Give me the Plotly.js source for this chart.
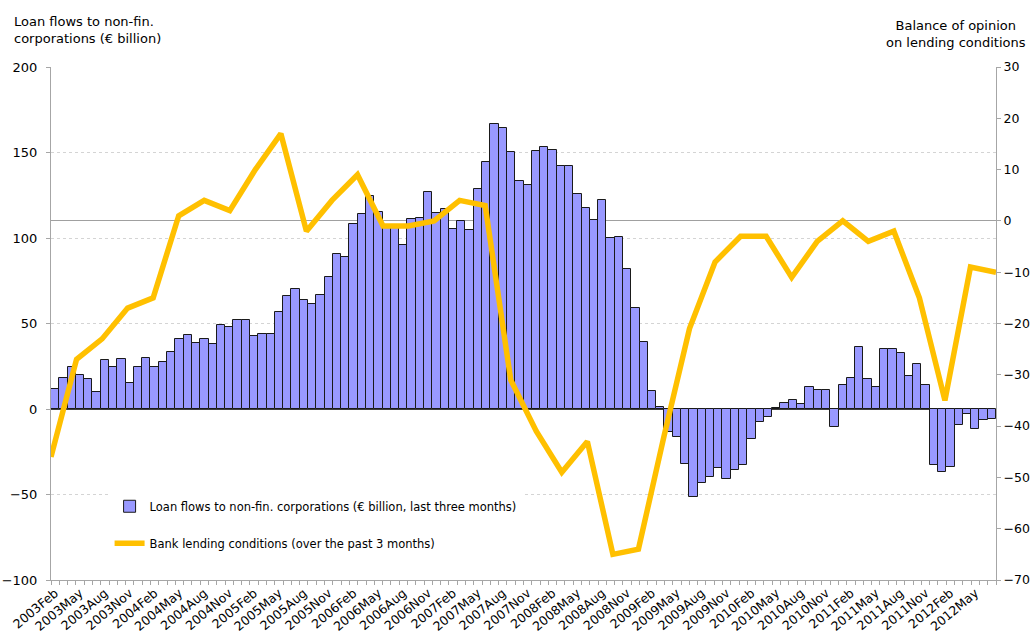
<!DOCTYPE html>
<html>
<head>
<meta charset="utf-8">
<script src="https://cdn.plot.ly/plotly-3.0.1.min.js"></script>
<style>html,body{margin:0;padding:0;background:#fff;}#chart{width:1030px;height:641px;}</style>
</head>
<body>
<div id="chart"></div>
<script>
const months = [
"2003Feb","2003Mar","2003Apr","2003May","2003Jun","2003Jul","2003Aug","2003Sep","2003Oct","2003Nov","2003Dec",
"2004Jan","2004Feb","2004Mar","2004Apr","2004May","2004Jun","2004Jul","2004Aug","2004Sep","2004Oct","2004Nov","2004Dec",
"2005Jan","2005Feb","2005Mar","2005Apr","2005May","2005Jun","2005Jul","2005Aug","2005Sep","2005Oct","2005Nov","2005Dec",
"2006Jan","2006Feb","2006Mar","2006Apr","2006May","2006Jun","2006Jul","2006Aug","2006Sep","2006Oct","2006Nov","2006Dec",
"2007Jan","2007Feb","2007Mar","2007Apr","2007May","2007Jun","2007Jul","2007Aug","2007Sep","2007Oct","2007Nov","2007Dec",
"2008Jan","2008Feb","2008Mar","2008Apr","2008May","2008Jun","2008Jul","2008Aug","2008Sep","2008Oct","2008Nov","2008Dec",
"2009Jan","2009Feb","2009Mar","2009Apr","2009May","2009Jun","2009Jul","2009Aug","2009Sep","2009Oct","2009Nov","2009Dec",
"2010Jan","2010Feb","2010Mar","2010Apr","2010May","2010Jun","2010Jul","2010Aug","2010Sep","2010Oct","2010Nov","2010Dec",
"2011Jan","2011Feb","2011Mar","2011Apr","2011May","2011Jun","2011Jul","2011Aug","2011Sep","2011Oct","2011Nov","2011Dec",
"2012Jan","2012Feb","2012Mar","2012Apr","2012May","2012Jun","2012Jul"
];
const loanFlows = [
11.5,17.9,24.4,19.7,17.5,9.7,28.5,24.4,29,15.2,
24.4,30,24.8,27.5,33.3,40.7,43.3,38.6,41.1,37.8,
49.1,48,52.2,52.2,42.5,44,44,56.9,66.2,70.4,
63.9,61.2,66.7,77.4,90.4,89.1,108,113.8,124.4,115,
106,106,95.9,111.3,111.7,126.7,114.8,117,105.5,110.1,
104.7,128.7,144.4,166.5,164.1,150.1,133.5,130.8,151,153.4,
151.7,142.3,141.9,125.9,117.7,110.5,122.2,100.2,100.6,82.1,
58.9,39.4,10.7,1.4,-13.6,-16.6,-32.2,-51.5,-43.5,-39.6,
-34.3,-40.7,-35.7,-32.7,-17.7,-7.6,-4.5,0.3,3.3,5.3,
2.7,13.1,11.3,10.9,-10.7,14,18.3,36.5,17.3,12.7,
35.1,35.1,32.9,19.5,26.1,14,-32.7,-36.8,-33.7,-9.6,
-2.7,-11.5,-6.6,-6
];
const quarters = [
"2003Feb","2003May","2003Aug","2003Nov","2004Feb","2004May","2004Aug","2004Nov",
"2005Feb","2005May","2005Aug","2005Nov","2006Feb","2006May","2006Aug","2006Nov",
"2007Feb","2007May","2007Aug","2007Nov","2008Feb","2008May","2008Aug","2008Nov",
"2009Feb","2009May","2009Aug","2009Nov","2010Feb","2010May","2010Aug","2010Nov",
"2011Feb","2011May","2011Aug","2011Nov","2012Feb","2012May"
];
const lendingConditions = [
-46,-27,-23,-17,-15,1,4,2,
10,17,-2,4,9,-1,-1,0,
4,3,-31,-41,-49,-43,-65,-64,
-42,-21,-8,-3,-3,-11,-4,0,
-4,-2,-15,-35,-9,-10
];
const barName = "Loan flows to non-fin. corporations (€ billion, last three months)";
const lineName = "Bank lending conditions (over the past 3 months)";
const leftTitle = "Loan flows to non-fin.<br>corporations (€ billion)";
const rightTitle = "Balance of opinion<br>on lending conditions";

const FONT = "DejaVu Sans, Liberation Sans, Arial, sans-serif";
const tickText = months.map(m => quarters.includes(m) ? m : "");

const traces = [
  {
    type: "bar", x: months, y: loanFlows, name: barName, legendgroup: "a",
    marker: {color: "#9999FF", line: {color: "#1a1a1a", width: 1}},
    xaxis: "x", yaxis: "y"
  },
  {
    type: "scatter", mode: "lines", x: quarters, y: lendingConditions, name: lineName, legendgroup: "b",
    line: {color: "#FFC000", width: 5.5},
    xaxis: "x2", yaxis: "y2"
  }
];

const axisGrey = "#a6a6a6";
const layout = {
  width: 1030, height: 641,
  margin: {l: 51, r: 34, t: 67, b: 61, pad: 0},
  paper_bgcolor: "#fff", plot_bgcolor: "#fff",
  font: {family: FONT, size: 13, color: "#000"},
  bargap: 0,
  showlegend: true,
  legend: {
    x: 0.062, y: 0.172, xanchor: "left", yanchor: "top",
    bgcolor: "#fff", borderwidth: 0,
    font: {family: FONT, size: 11.5, color: "#000"},
    tracegroupgap: 18, itemwidth: 30, traceorder: "grouped"
  },
  xaxis: {
    type: "category", tickson: "boundaries",
    tickvals: months, ticktext: tickText, tickangle: -40,
    ticks: "outside", ticklen: 4, tickcolor: axisGrey,
    showline: true, linecolor: axisGrey, linewidth: 1,
    showgrid: false, zeroline: false, automargin: false,
    tickfont: {family: FONT, size: 12.5, color: "#000"}
  },
  xaxis2: {
    type: "category", overlaying: "x", visible: false,
    range: [0, quarters.length - 1], anchor: "y2"
  },
  yaxis: {
    range: [-100, 200], tick0: 0, dtick: 50,
    showgrid: true, gridcolor: "#d4d4d4", griddash: "dot", gridwidth: 1,
    zeroline: true, zerolinecolor: "#404040", zerolinewidth: 1,
    showline: true, linecolor: axisGrey, linewidth: 1,
    ticks: "outside", ticklen: 4, tickcolor: axisGrey,
    automargin: false, ticklabelstandoff: 6,
    tickfont: {family: FONT, size: 13, color: "#000"}
  },
  yaxis2: {
    overlaying: "y", side: "right", anchor: "x2",
    range: [-70, 30], tick0: 0, dtick: 10,
    showgrid: false,
    zeroline: true, zerolinecolor: "#a0a0a0", zerolinewidth: 1,
    showline: true, linecolor: axisGrey, linewidth: 1,
    ticks: "outside", ticklen: 4, tickcolor: axisGrey,
    automargin: false, ticklabelstandoff: 0,
    tickfont: {family: FONT, size: 12.5, color: "#000"}
  },
  annotations: [
    {text: leftTitle, xref: "paper", yref: "paper", x: -0.0416, y: 1.107,
     xanchor: "left", yanchor: "top", align: "left", showarrow: false,
     font: {family: FONT, size: 13, color: "#000"}},
    {text: rightTitle, xref: "paper", yref: "paper", x: 0.958, y: 1.1,
     xanchor: "center", yanchor: "top", align: "center", showarrow: false,
     font: {family: FONT, size: 13, color: "#000"}}
  ]
};

Plotly.newPlot("chart", traces, layout, {displayModeBar: false, responsive: false});
</script>
</body>
</html>
